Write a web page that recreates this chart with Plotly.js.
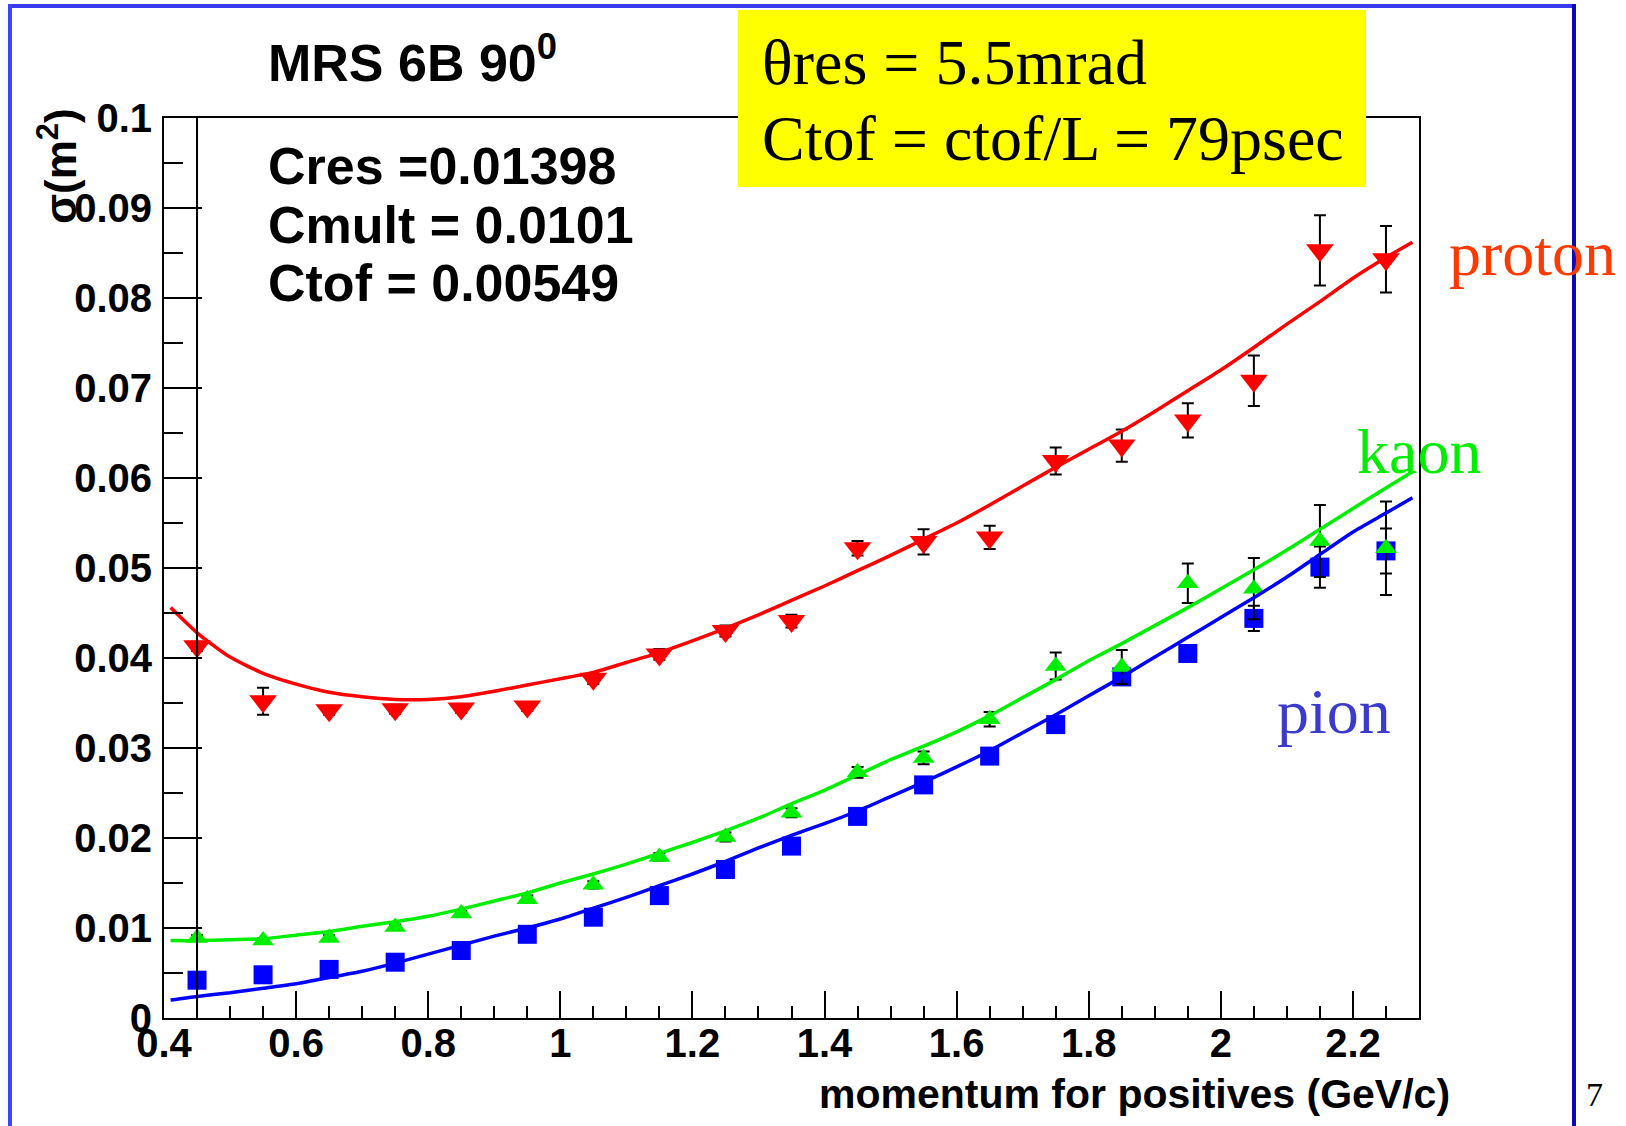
<!DOCTYPE html>
<html>
<head>
<meta charset="utf-8">
<script src="https://cdn.plot.ly/plotly-3.0.1.min.js"></script>
<style>
html,body{margin:0;padding:0;background:#fff;}
#chart{width:1626px;height:1126px;}
</style>
</head>
<body>
<div id="chart"></div>
<script>
// ---- data ----
const momentum = [0.45,0.55,0.65,0.75,0.85,0.95,1.05,1.15,1.25,1.35,1.45,1.55,1.65,1.75,1.85,1.95,2.05,2.15,2.25];

const protonSigma = [0.0413,0.0352,0.0342,0.0343,0.0344,0.0346,0.0377,0.0404,0.0430,0.0441,0.0522,0.0529,0.0534,0.0619,0.0636,0.0664,0.0708,0.0853,0.0843];
const protonErr   = [0.0005,0.0015,0.0005,0.0005,0.0005,0.0005,0.0006,0.0006,0.0006,0.0007,0.0008,0.0014,0.0013,0.0015,0.0018,0.0019,0.0028,0.0039,0.0037];

const kaonSigma = [0.0089,0.0086,0.0089,0.0101,0.0116,0.0132,0.0148,0.0179,0.0201,0.0228,0.0273,0.0289,0.0332,0.0391,0.0390,0.0483,0.0477,0.0530,0.0522];
const kaonErr   = [0.0003,0.0003,0.0003,0.0003,0.0003,0.0004,0.0004,0.0004,0.0005,0.0005,0.0006,0.0007,0.0008,0.0015,0.0019,0.0022,0.0034,0.0040,0.0052];

const pionSigma = [0.0042,0.0048,0.0054,0.0062,0.0075,0.0093,0.0112,0.0136,0.0165,0.0191,0.0224,0.0259,0.0291,0.0326,0.0379,0.0405,0.0444,0.0501,0.0519];
const pionErr   = [0.0003,0.0003,0.0003,0.0003,0.0003,0.0003,0.0004,0.0004,0.0004,0.0005,0.0005,0.0006,0.0006,0.0007,0.0008,0.0009,0.0014,0.0023,0.0025];

const fitMomentum = [0.41,0.45,0.5,0.55,0.6,0.65,0.7,0.75,0.8,0.85,0.9,0.95,1.0,1.05,1.1,1.15,1.2,1.25,1.3,1.35,1.4,1.45,1.5,1.55,1.6,1.65,1.7,1.75,1.8,1.85,1.9,1.95,2.0,2.05,2.1,2.15,2.2,2.25,2.29];
const protonFit = [0.0456,0.0428,0.0401,0.0383,0.0371,0.0362,0.0357,0.0354,0.0354,0.0357,0.0363,0.0370,0.0377,0.0384,0.0395,0.0406,0.0419,0.0433,0.0448,0.0464,0.0480,0.0497,0.0514,0.0532,0.0550,0.0570,0.0591,0.0612,0.0632,0.0652,0.0674,0.0697,0.0720,0.0745,0.0771,0.0796,0.0822,0.0845,0.0862];
const kaonFit   = [0.0086,0.0086,0.0087,0.0088,0.0092,0.0096,0.0102,0.0107,0.0113,0.0121,0.0130,0.0139,0.0150,0.0160,0.0171,0.0183,0.0195,0.0208,0.0222,0.0238,0.0253,0.0270,0.0287,0.0302,0.0318,0.0336,0.0356,0.0376,0.0397,0.0416,0.0436,0.0456,0.0477,0.0498,0.0520,0.0543,0.0566,0.0589,0.0607];
const pionFit   = [0.0020,0.0024,0.0028,0.0033,0.0038,0.0045,0.0052,0.0061,0.0071,0.0081,0.0091,0.0100,0.0110,0.0122,0.0134,0.0147,0.0160,0.0174,0.0189,0.0203,0.0216,0.0230,0.0246,0.0262,0.0279,0.0297,0.0317,0.0337,0.0358,0.0379,0.0401,0.0423,0.0445,0.0467,0.0490,0.0515,0.0540,0.0561,0.0578];

const xRange = [0.4, 2.3];
const yRange = [0, 0.1];

const titleText = 'MRS 6B 90<sup>0</sup>';
const statLines = ['Cres =0.01398', 'Cmult = 0.0101', 'Ctof = 0.00549'];
const boxLines = ['θres = 5.5mrad', 'Ctof = ctof/L = 79psec'];
const xTitle = 'momentum for positives (GeV/c)';
const yTitle = 'σ(m<sup>2</sup>)';
const pageNumber = '7';

// ---- geometry ----
const W = 1626, H = 1126;
const L = 164, R = 1419, T = 118, B = 1018;
const PW = R - L, PH = B - T;
const px = v => (v - L) / PW;
const py = v => (B - v) / PH;

const boldFont = (s) => ({family: 'Liberation Sans, Arial, sans-serif', size: s, color: '#000', weight: 700});
const serif = (s, c) => ({family: 'Liberation Serif, Times New Roman, serif', size: s, color: c});

const errStyle = (arr) => ({type: 'data', array: arr, visible: true, color: '#000', thickness: 2, width: 6});

const traces = [
  {x: momentum, y: protonSigma, type: 'scatter', mode: 'markers',
   marker: {symbol: 'triangle-down', size: 24, color: '#ff0000'}, error_y: errStyle(protonErr)},
  {x: momentum, y: pionSigma, type: 'scatter', mode: 'markers',
   marker: {symbol: 'square', size: 19, color: '#0000ff'}, error_y: errStyle(pionErr)},
  {x: momentum, y: kaonSigma, type: 'scatter', mode: 'markers',
   marker: {symbol: 'triangle-up', size: 19, color: '#00ee00'}, error_y: errStyle(kaonErr)},
  {x: fitMomentum, y: protonFit, type: 'scatter', mode: 'lines', line: {color: '#ff0000', width: 3.5, shape: 'spline', smoothing: 0.6}},
  {x: fitMomentum, y: kaonFit, type: 'scatter', mode: 'lines', line: {color: '#00ee00', width: 3.5, shape: 'spline', smoothing: 0.6}},
  {x: fitMomentum, y: pionFit, type: 'scatter', mode: 'lines', line: {color: '#0000ff', width: 3.5, shape: 'spline', smoothing: 0.6}}
];

const annotations = [
  {text: titleText, x: px(266), y: py(59), xanchor: 'left', yanchor: 'middle', font: boldFont(52)},
  {text: statLines[0], x: px(266), y: py(166), xanchor: 'left', yanchor: 'middle', font: boldFont(52)},
  {text: statLines[1], x: px(266), y: py(225), xanchor: 'left', yanchor: 'middle', font: boldFont(52)},
  {text: statLines[2], x: px(266), y: py(283), xanchor: 'left', yanchor: 'middle', font: boldFont(52)},
  {text: boxLines[0], x: px(760), y: py(63), xanchor: 'left', yanchor: 'middle', font: serif(64, '#000')},
  {text: boxLines[1], x: px(760), y: py(138), xanchor: 'left', yanchor: 'middle', font: serif(64, '#000')},
  {text: 'proton', x: px(1447), y: py(253), xanchor: 'left', yanchor: 'middle', font: serif(64, '#ff3a00')},
  {text: 'kaon', x: px(1355), y: py(452), xanchor: 'left', yanchor: 'middle', font: serif(64, '#00ee00')},
  {text: 'pion', x: px(1275), y: py(712), xanchor: 'left', yanchor: 'middle', font: serif(64, '#3a3acc')},
  {text: xTitle, x: px(1452), y: py(1094), xanchor: 'right', yanchor: 'middle', font: boldFont(41)},
  {text: yTitle, x: px(57), y: py(166), xanchor: 'center', yanchor: 'middle', textangle: -90, font: boldFont(44)},
  {text: pageNumber, x: px(1594), y: py(1094), xanchor: 'center', yanchor: 'middle', font: serif(34, '#000')}
].map(a => Object.assign({xref: 'paper', yref: 'paper', showarrow: false}, a));

const shapes = [
  // extra vertical frame line at x = 0.45
  {type: 'line', xref: 'x', yref: 'paper', x0: 0.45, x1: 0.45, y0: 0, y1: 1, line: {color: '#000', width: 2}, layer: 'above'},
  // yellow box
  {type: 'rect', xref: 'paper', yref: 'paper', x0: px(738), x1: px(1366), y0: py(187), y1: py(10),
   fillcolor: '#ffff00', line: {width: 0}, layer: 'above'},
  // slide frame
  {type: 'line', xref: 'paper', yref: 'paper', x0: px(8), x1: px(1576), y0: py(6), y1: py(6), line: {color: '#3a3af0', width: 4}, layer: 'above'},
  {type: 'line', xref: 'paper', yref: 'paper', x0: px(10), x1: px(10), y0: py(4), y1: py(1130), line: {color: '#4040ff', width: 4}, layer: 'above'},
  {type: 'line', xref: 'paper', yref: 'paper', x0: px(1574), x1: px(1574), y0: py(4), y1: py(1130), line: {color: '#0a0ab4', width: 4}, layer: 'above'}
];

const layout = {
  width: W, height: H,
  margin: {l: L, r: W - R, t: T, b: H - B, pad: 0},
  paper_bgcolor: '#ffffff', plot_bgcolor: '#ffffff',
  showlegend: false,
  xaxis: {
    range: xRange, dtick: 0.2, tick0: 0, showgrid: false, zeroline: false,
    showline: true, linecolor: '#000', linewidth: 2, mirror: true,
    ticks: 'inside', ticklen: 27, tickwidth: 2, tickcolor: '#000',
    minor: {dtick: 0.05, ticks: 'inside', ticklen: 12, tickwidth: 2, tickcolor: '#000', showgrid: false},
    tickfont: boldFont(40), ticklabelstandoff: -11
  },
  yaxis: {
    range: yRange, dtick: 0.01, tick0: 0, showgrid: false, zeroline: false,
    showline: true, linecolor: '#000', linewidth: 2, mirror: true,
    ticks: 'inside', ticklen: 38, tickwidth: 2, tickcolor: '#000',
    minor: {dtick: 0.005, ticks: 'inside', ticklen: 19, tickwidth: 2, tickcolor: '#000', showgrid: false},
    tickfont: boldFont(40), ticklabelstandoff: 2
  },
  annotations: annotations,
  shapes: shapes
};

Plotly.newPlot('chart', traces, layout, {staticPlot: true, displayModeBar: false});
</script>
</body>
</html>
